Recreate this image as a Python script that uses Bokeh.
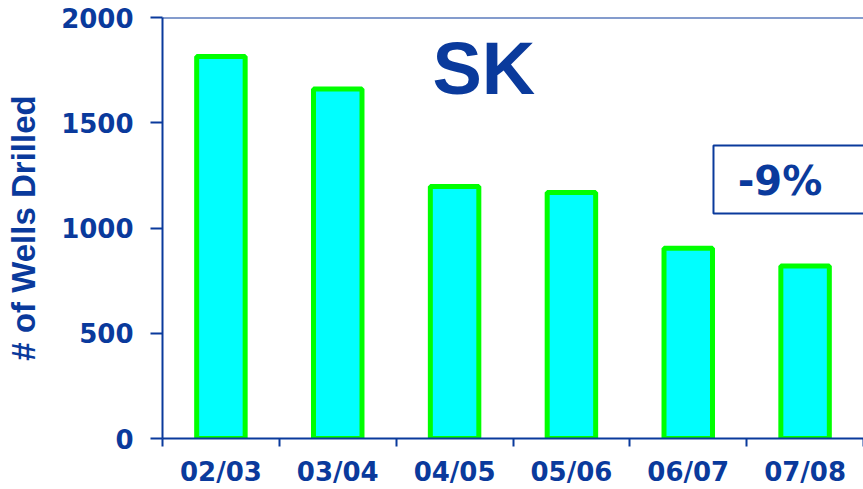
import numpy as np
from bokeh.plotting import figure
from bokeh.models import FixedTicker, Span, Label, BoxAnnotation, Range1d
from bokeh.embed import file_html
from bokeh.resources import INLINE

categories = ["02/03", "03/04", "04/05", "05/06", "06/07", "07/08"]
wells = [1815, 1660, 1197, 1169, 904, 820]
y_ticks = [0, 500, 1000, 1500, 2000]
title_text = "SK"
change_text = "-9%"

BLUE = "#0A3A9C"

xs = np.arange(len(categories)) + 0.5

p = figure(width=863, height=489, output_backend="svg", toolbar_location=None,
           x_range=Range1d(0, len(categories)), y_range=Range1d(0, 2000),
           min_border_left=162, min_border_top=17, min_border_bottom=51,
           min_border_right=0)
p.outline_line_color = None
p.xgrid.visible = False
p.ygrid.visible = False
p.background_fill_color = "white"
p.border_fill_color = "white"

p.vbar(x=xs, top=wells, width=0.415, bottom=0,
       fill_color="#00FFFF", line_color="#00FF00", line_width=5)

# top border line at max
p.add_layout(Span(location=2000, dimension="width", line_color=BLUE, line_width=2))

# y axis
ya = p.yaxis[0]
ya.ticker = FixedTicker(ticks=y_ticks, minor_ticks=[])
ya.axis_line_color = BLUE
ya.axis_line_width = 2
ya.major_tick_line_color = BLUE
ya.major_tick_line_width = 2
ya.major_tick_out = 12
ya.major_tick_in = 0
ya.minor_tick_line_color = None
ya.major_label_text_font = "DejaVu Sans"
ya.major_label_text_font_style = "bold"
ya.major_label_text_font_size = "26px"
ya.major_label_text_color = BLUE
ya.major_label_standoff = 17
ya.axis_label = "# of Wells Drilled"
ya.axis_label_text_font = "Liberation Sans"
ya.axis_label_text_font_style = "bold"
ya.axis_label_text_font_size = "33px"
ya.axis_label_text_color = BLUE
ya.axis_label_standoff = 16

# x axis: labels at centers, ticks at boundaries
xa = p.xaxis[0]
xa.ticker = FixedTicker(ticks=list(xs), minor_ticks=list(range(len(categories) + 1)))
xa.major_label_overrides = {float(x): c for x, c in zip(xs, categories)}
xa.axis_line_color = BLUE
xa.axis_line_width = 2
xa.major_tick_line_color = None
xa.major_tick_out = 8
xa.major_tick_in = 0
xa.minor_tick_line_color = BLUE
xa.minor_tick_line_width = 2
xa.minor_tick_out = 8
xa.minor_tick_in = 0
xa.major_label_text_font = "DejaVu Sans"
xa.major_label_text_font_style = "bold"
xa.major_label_text_font_size = "26px"
xa.major_label_text_color = BLUE
xa.major_label_standoff = 10

# title
p.add_layout(Label(x=2.75, y=1758, text=title_text, text_align="center",
                   text_baseline="alphabetic", text_font="Liberation Sans",
                   text_font_style="bold", text_font_size="74px", text_color=BLUE))

# change box
p.add_layout(BoxAnnotation(left=4.716, right=6.5, bottom=1069, top=1392,
                           fill_color="white", fill_alpha=1.0,
                           line_color=BLUE, line_alpha=1.0, line_width=2))
p.add_layout(Label(x=5.285, y=1223, text=change_text, text_align="center",
                   text_baseline="alphabetic", text_font="DejaVu Sans",
                   text_font_style="bold", text_font_size="40px", text_color=BLUE))

open("out.html", "w").write(file_html(p, INLINE))
